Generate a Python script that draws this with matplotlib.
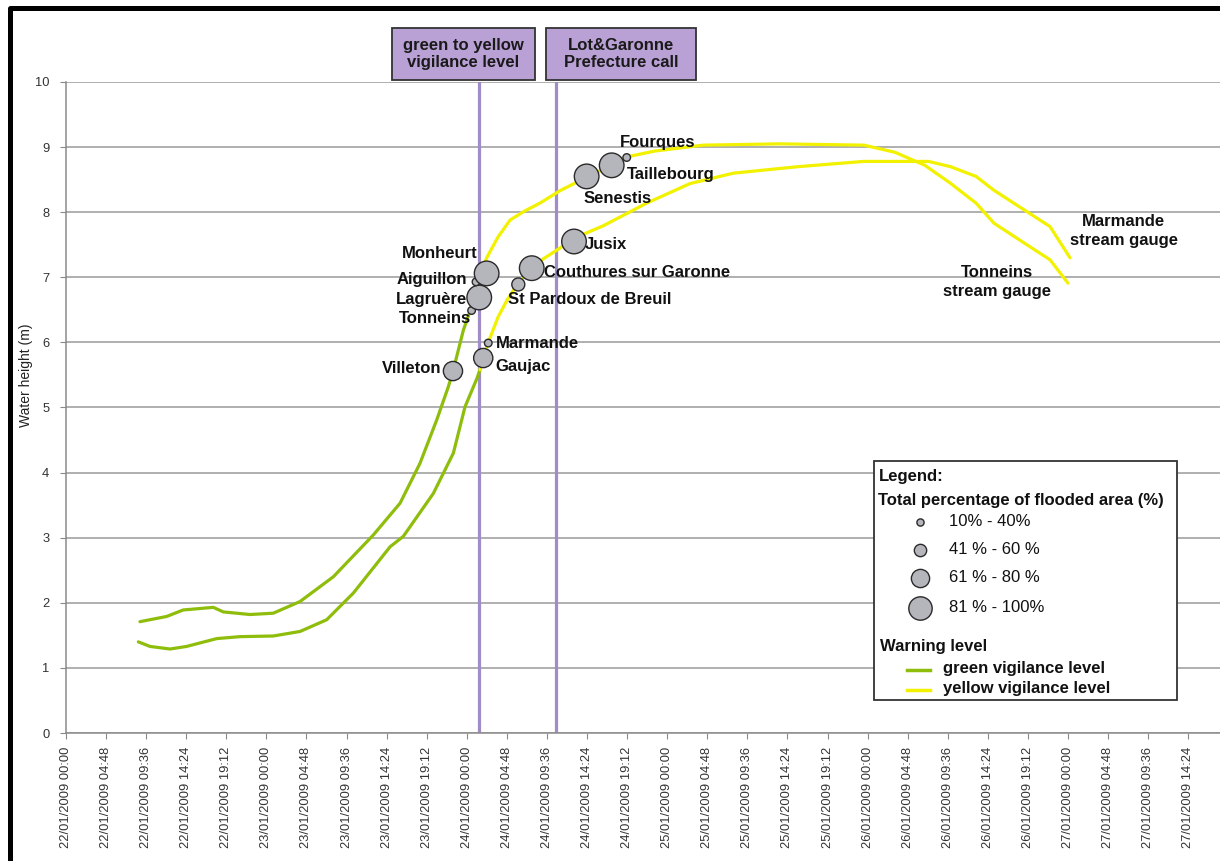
import matplotlib
matplotlib.use("Agg")
import matplotlib.pyplot as plt
from matplotlib.patches import Rectangle
from matplotlib.lines import Line2D
import numpy as np

plt.rcParams['font.family'] = ['Liberation Sans', 'DejaVu Sans']

# ---------------- data (time in days since 22/01/2009 00:00) ----------------
tonneins_t = [0.369, 0.502, 0.585, 0.735, 0.785, 0.918, 1.034, 1.168, 1.334, 1.533,
              1.667, 1.766, 1.850, 1.908, 1.933, 1.983, 2.016, 2.046, 2.071, 2.101,
              2.156, 2.216, 2.290, 2.365, 2.465, 2.600, 2.725, 2.799, 2.939, 3.179,
              3.563, 3.982, 4.137, 4.286, 4.411, 4.541, 4.631, 4.760, 4.910, 5.000]
tonneins_h = [1.71, 1.79, 1.89, 1.93, 1.86, 1.82, 1.84, 2.02, 2.40, 3.04,
              3.53, 4.14, 4.81, 5.32, 5.58, 6.19, 6.48, 6.80, 7.08, 7.31,
              7.62, 7.88, 8.02, 8.14, 8.33, 8.54, 8.72, 8.85, 8.94, 9.03,
              9.05, 9.03, 8.92, 8.72, 8.45, 8.14, 7.83, 7.57, 7.27, 6.91]

marmande_t = [0.361, 0.419, 0.519, 0.602, 0.752, 0.868, 1.034, 1.168, 1.301, 1.434,
              1.617, 1.683, 1.833, 1.933, 1.991, 2.051, 2.066, 2.106, 2.156, 2.201,
              2.256, 2.325, 2.380, 2.480, 2.535, 2.680, 2.898, 3.114, 3.331, 3.655,
              3.980, 4.304, 4.413, 4.541, 4.629, 4.759, 4.910, 5.010]
marmande_h = [1.40, 1.33, 1.29, 1.33, 1.45, 1.48, 1.49, 1.56, 1.74, 2.15,
              2.86, 3.02, 3.68, 4.30, 5.01, 5.45, 5.58, 5.99, 6.39, 6.65,
              6.91, 7.14, 7.28, 7.48, 7.60, 7.79, 8.14, 8.44, 8.60, 8.70,
              8.78, 8.78, 8.70, 8.55, 8.34, 8.08, 7.78, 7.30]

vigilance_switch_t = 2.10   # change from green to yellow vigilance on the curves

towns = ['Villeton', 'Tonneins', 'Lagruère', 'Aiguillon', 'Monheurt', 'Gaujac',
         'Marmande', 'St Pardoux de Breuil', 'Couthures sur Garonne', 'Jusix',
         'Senestis', 'Taillebourg', 'Fourques']
town_t = [1.931, 2.024, 2.062, 2.046, 2.099, 2.082, 2.107, 2.257, 2.324, 2.535,
          2.598, 2.723, 2.798]
town_h = [5.56, 6.49, 6.69, 6.93, 7.06, 5.76, 5.99, 6.89, 7.14, 7.55,
          8.55, 8.72, 8.84]
town_cat = [3, 1, 4, 1, 4, 3, 1, 2, 4, 4, 4, 4, 1]   # flooded-area class

cat_labels = ['10% - 40%', '41 % - 60 %', '61 % - 80 %', '81 % - 100%']

event_t = [2.0625, 2.444]
event_labels = ['green to yellow\nvigilance level', 'Lot&Garonne\nPrefecture call']

gauge_labels = ['Marmande\nstream gauge', 'Tonneins\nstream gauge']
gauge_pos = [(5.279, 7.71), (4.646, 6.93)]

ytick_vals = list(range(0, 11))
xtick_labels = ['22/01/2009 00:00', '22/01/2009 04:48', '22/01/2009 09:36', '22/01/2009 14:24',
                '22/01/2009 19:12', '23/01/2009 00:00', '23/01/2009 04:48', '23/01/2009 09:36',
                '23/01/2009 14:24', '23/01/2009 19:12', '24/01/2009 00:00', '24/01/2009 04:48',
                '24/01/2009 09:36', '24/01/2009 14:24', '24/01/2009 19:12', '25/01/2009 00:00',
                '25/01/2009 04:48', '25/01/2009 09:36', '25/01/2009 14:24', '25/01/2009 19:12',
                '26/01/2009 00:00', '26/01/2009 04:48', '26/01/2009 09:36', '26/01/2009 14:24',
                '26/01/2009 19:12', '27/01/2009 00:00', '27/01/2009 04:48', '27/01/2009 09:36',
                '27/01/2009 14:24']

# ---------------- style ----------------
W, H = 1220, 861
GREEN = '#8fbd0c'
YELLOW = '#f2f200'
PURPLE = '#a08cc6'
BOXFILL = '#b9a1d6'
BUBBLE = '#b5b5bc'
radius_px = {1: 3.8, 2: 6.5, 3: 9.6, 4: 12.3}


def fx(px):
    return px / W


def fy(py):
    return 1 - py / H


fig = plt.figure(figsize=(W / 100, H / 100), dpi=100)
ax = fig.add_axes([fx(66), fy(733), fx(1220) - fx(66), fy(82) - fy(733)])
ax.set_xlim(0, (1220 - 66) / 200.4)
ax.set_ylim(0, 10)

# grid
ax.set_yticks(ytick_vals)
ax.yaxis.grid(True, color='#9a9a9a', lw=1.1, zorder=0)
ax.set_axisbelow(True)
for s in ['top', 'right']:
    ax.spines[s].set_visible(False)
for s in ['left', 'bottom']:
    ax.spines[s].set_color('#8a8a8a')
    ax.spines[s].set_linewidth(1.1)

ax.set_xticks([0.2 * i for i in range(len(xtick_labels))])
ax.set_xticklabels(xtick_labels, rotation=90, fontsize=9.3, color='#333333')
ax.tick_params(axis='x', length=4, color='#8a8a8a', pad=6)
ax.tick_params(axis='y', length=4, color='#8a8a8a', pad=8, labelsize=9.3, labelcolor='#333333')
ax.set_ylabel('Water height (m)', fontsize=10, color='#222222')
ax.yaxis.set_label_coords(-0.029, 0.55)

# event lines
for t in event_t:
    ax.axvline(t, color=PURPLE, lw=2.3, zorder=1)


def plot_split(t, h):
    t = np.array(t)
    h = np.array(h)
    m = t <= vigilance_switch_t
    idx = np.searchsorted(t, vigilance_switch_t)
    ax.plot(t[m], h[m], color=GREEN, lw=2.3, zorder=2, solid_capstyle='round',
            solid_joinstyle='round')
    ax.plot(t[idx - 1:], h[idx - 1:], color=YELLOW, lw=2.3, zorder=2, solid_capstyle='round',
            solid_joinstyle='round')


plot_split(tonneins_t, tonneins_h)
plot_split(marmande_t, marmande_h)

# bubbles
sizes = [(2 * radius_px[c] * 0.72) ** 2 for c in town_cat]
ax.scatter(town_t, town_h, s=sizes, facecolor=BUBBLE, edgecolor='#2a2a2a', lw=1.0, zorder=4)

label_off = {  # offset in pixels (dx, dy up), alignment
    'Villeton': (-12, 3, 'right'),
    'Tonneins': (-1, -8, 'right'),
    'Lagruère': (-12, -2, 'right'),
    'Aiguillon': (-9, 2, 'right'),
    'Monheurt': (-9, 20, 'right'),
    'Gaujac': (12, -8, 'left'),
    'Marmande': (8, 0, 'left'),
    'St Pardoux de Breuil': (-10, -15, 'left'),
    'Couthures sur Garonne': (12, -4, 'left'),
    'Jusix': (11, -3, 'left'),
    'Senestis': (-3, -22, 'left'),
    'Taillebourg': (15, -9, 'left'),
    'Fourques': (-7, 15, 'left'),
}
for name, t, h in zip(towns, town_t, town_h):
    dx, dy, ha = label_off[name]
    ax.annotate(name, (t, h), xytext=(dx * 0.72, dy * 0.72), textcoords='offset points',
                ha=ha, va='center', fontsize=12, fontweight='bold', color='#111111', zorder=5)

for lab, (t, h) in zip(gauge_labels, gauge_pos):
    ax.text(t, h, lab, ha='center', va='center', fontsize=12, fontweight='bold',
            color='#111111', linespacing=1.35, zorder=5)

# event boxes above the plot
box_px = [(392, 28, 535, 80), (546, 28, 696, 80)]
for lab, (x0, y0, x1, y1) in zip(event_labels, box_px):
    fig.add_artist(Rectangle((fx(x0), fy(y1)), fx(x1) - fx(x0), fy(y0) - fy(y1),
                             transform=fig.transFigure, facecolor=BOXFILL,
                             edgecolor='#333333', lw=1.3, zorder=6))
    fig.text(fx((x0 + x1) / 2), fy((y0 + y1) / 2), lab, ha='center', va='center',
             fontsize=12, fontweight='bold', color='#1a1a1a', linespacing=1.2, zorder=7)

# legend box
fig.add_artist(Rectangle((fx(874), fy(700)), fx(1177) - fx(874), fy(461) - fy(700),
                         transform=fig.transFigure, facecolor='white',
                         edgecolor='#333333', lw=1.3, zorder=6))
fig.text(fx(879), fy(477), 'Legend:', ha='left', va='center', fontsize=12,
         fontweight='bold', color='#111111', zorder=7)
fig.text(fx(878), fy(500), 'Total percentage of flooded area (%)', ha='left', va='center',
         fontsize=12, fontweight='bold', color='#111111', zorder=7)
leg_y = [522, 550, 578, 608]
for i, (lab, yy) in enumerate(zip(cat_labels, leg_y)):
    r = radius_px[i + 1] * 0.95
    fig.add_artist(Line2D([fx(920)], [fy(yy)], marker='o', markersize=2 * r * 0.72,
                          markerfacecolor=BUBBLE, markeredgecolor='#2a2a2a', mew=1.0,
                          transform=fig.transFigure, zorder=7))
    fig.text(fx(949), fy(yy), lab, ha='left', va='center', fontsize=12,
             color='#111111', zorder=7)
fig.text(fx(880), fy(646), 'Warning level', ha='left', va='center', fontsize=12,
         fontweight='bold', color='#111111', zorder=7)
for col, yy, lab in [(GREEN, 670, 'green vigilance level'), (YELLOW, 690, 'yellow vigilance level')]:
    fig.add_artist(Line2D([fx(907), fx(930)], [fy(yy), fy(yy)], color=col, lw=2.5,
                          transform=fig.transFigure, zorder=7))
    fig.text(fx(943), fy(yy - 2), lab, ha='left', va='center', fontsize=12,
             fontweight='bold', color='#111111', zorder=7)

# outer frame (left and top)
fig.add_artist(Line2D([fx(9.5), fx(9.5), fx(1220)], [fy(861), fy(7.5), fy(7.5)],
                      color='black', lw=3.6, transform=fig.transFigure, zorder=8))

fig.savefig('out.png', dpi=100)
